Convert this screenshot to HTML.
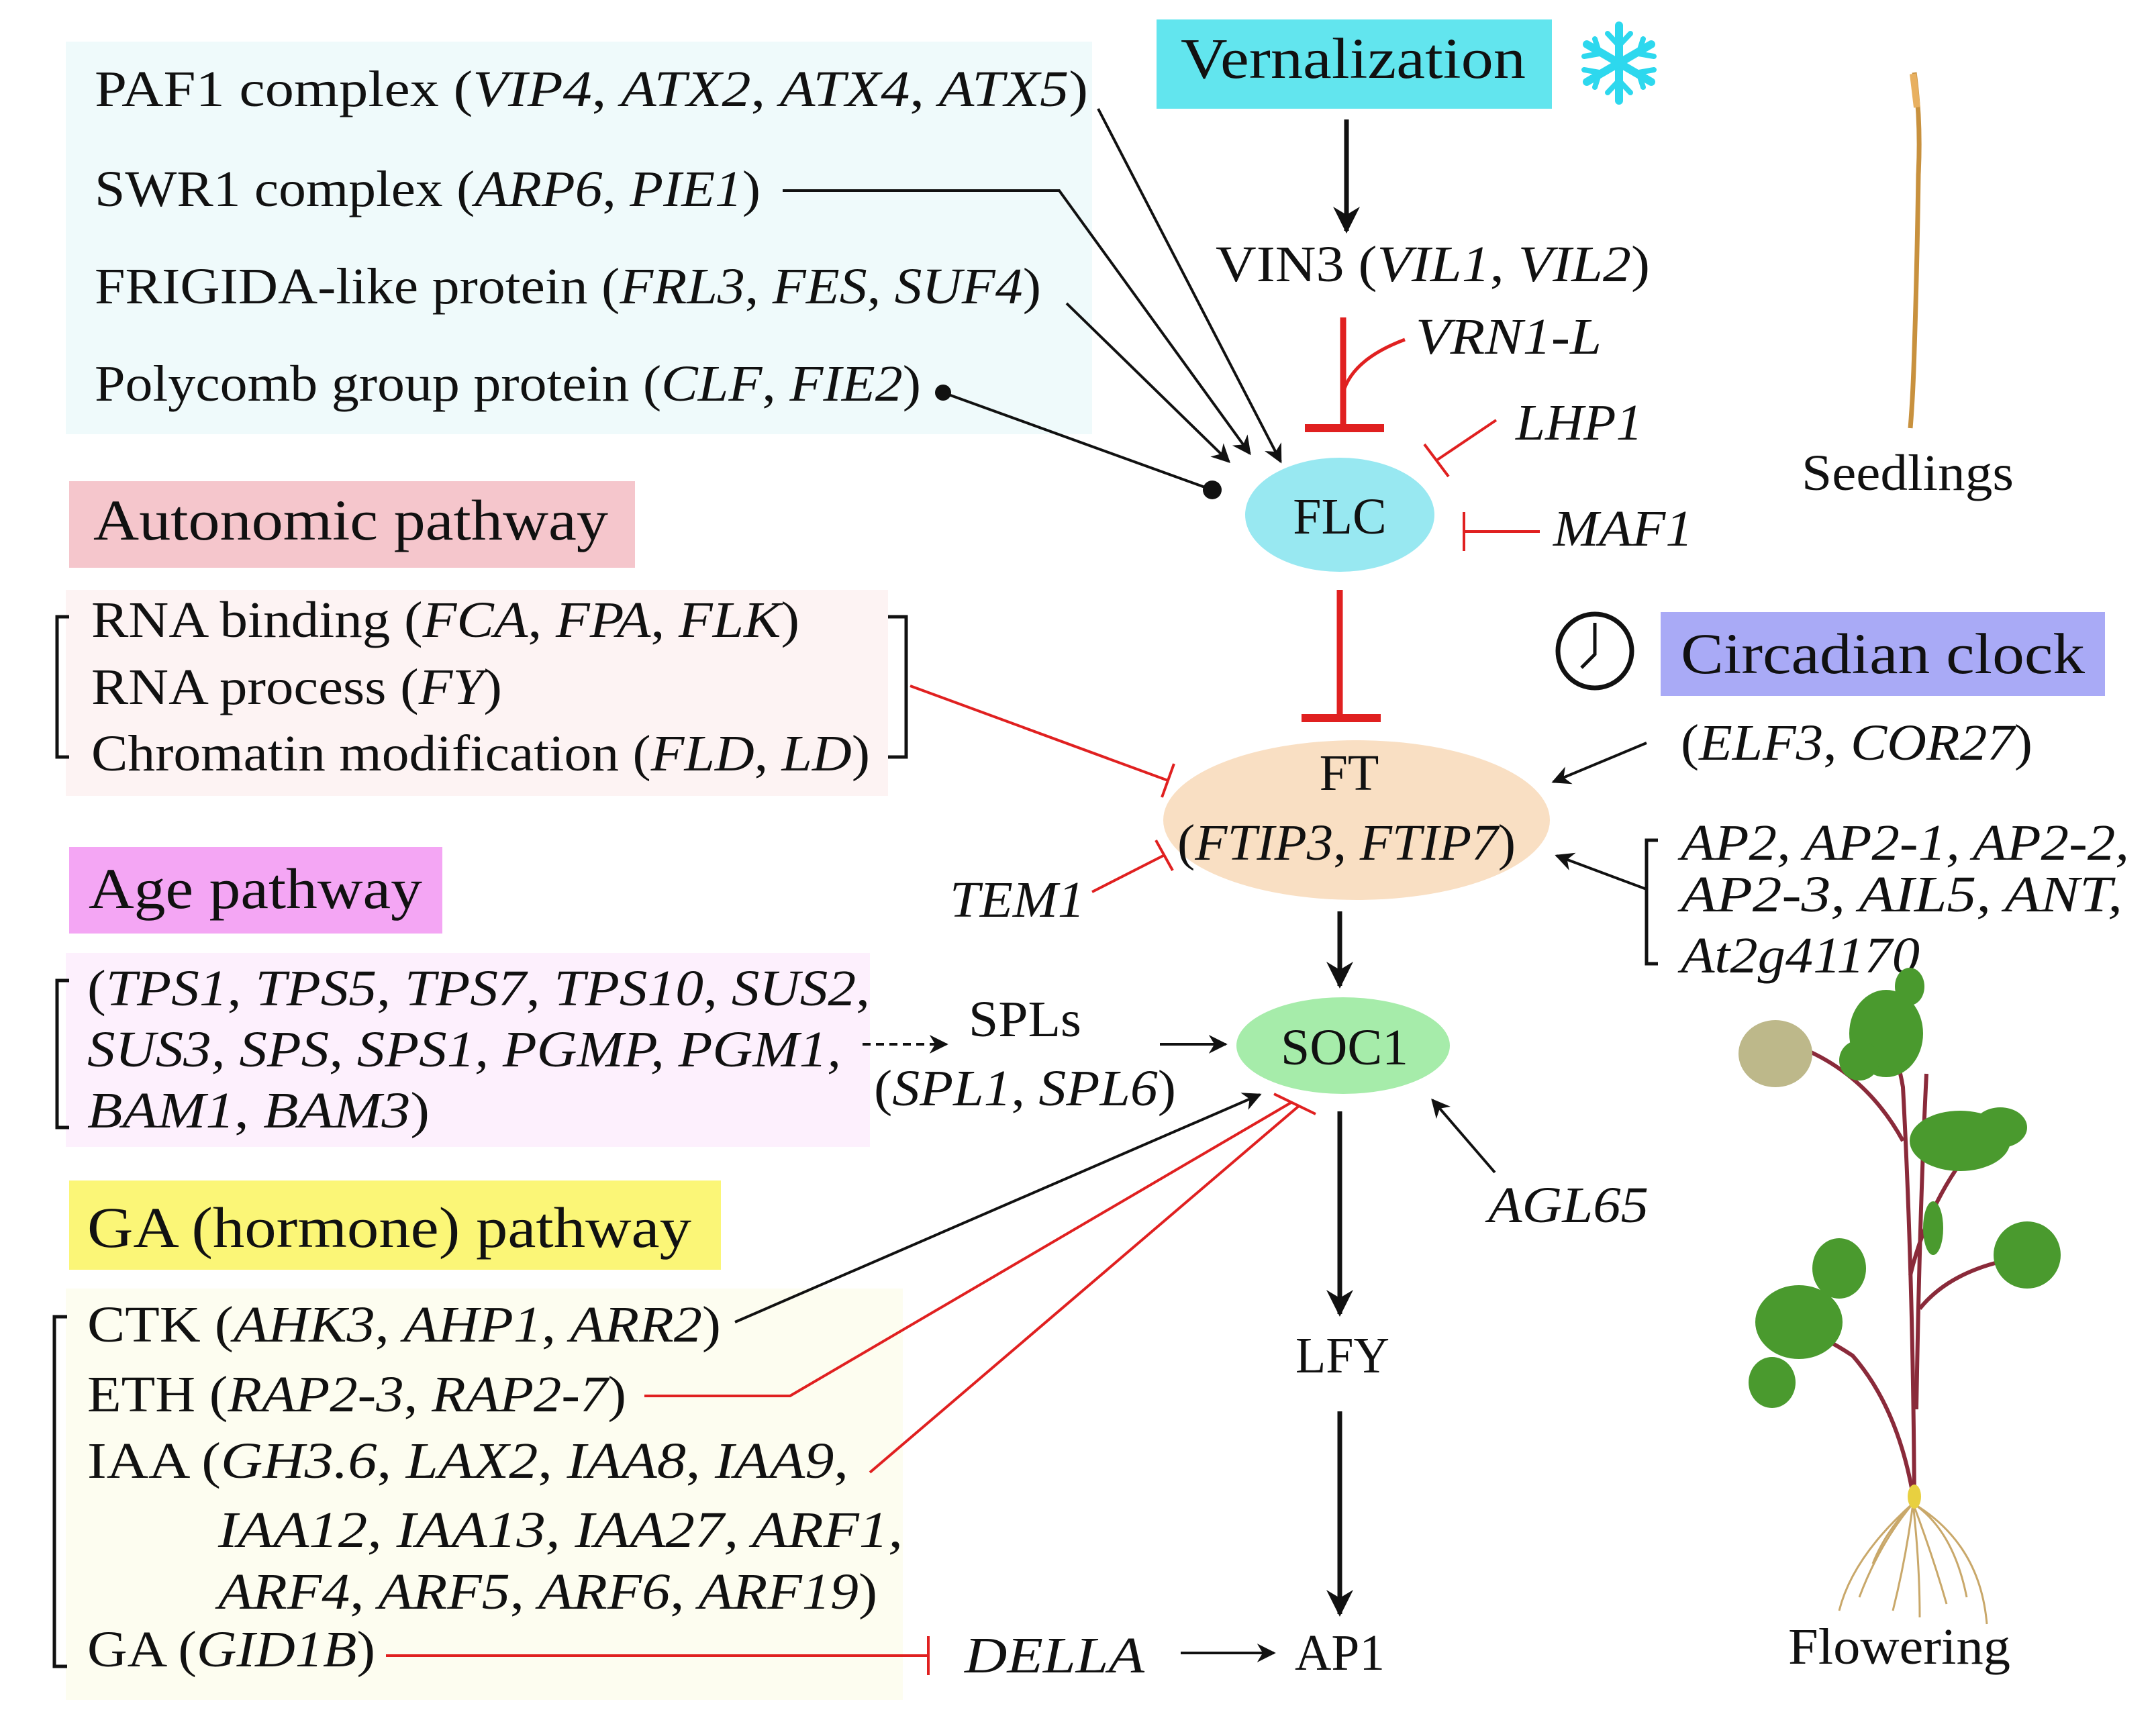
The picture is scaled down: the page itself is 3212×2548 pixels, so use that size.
<!DOCTYPE html>
<html><head><meta charset="utf-8"><style>
html,body{margin:0;padding:0;background:#fff}
svg{display:block}
text{font-family:"Liberation Serif","Times New Roman",Times,serif;font-size:76px;fill:#111}
.h{font-size:86px}
.i{font-style:italic}
</style></head><body>
<svg width="3212" height="2548" viewBox="0 0 3212 2548" xmlns="http://www.w3.org/2000/svg">
<defs>
<marker id="am" viewBox="0 0 10 10" refX="9" refY="5" markerWidth="28" markerHeight="28" markerUnits="userSpaceOnUse" orient="auto"><path d="M0,0 L10,5 L0,10 L3,5z" fill="#111"/></marker>
<marker id="ab" viewBox="0 0 10 10" refX="9" refY="5" markerWidth="40" markerHeight="40" markerUnits="userSpaceOnUse" orient="auto"><path d="M0,0 L10,5 L0,10 L3,5z" fill="#111"/></marker>
</defs>
<rect x="98" y="62" width="1529" height="585" fill="#effafb"/>
<rect x="103" y="717" width="843" height="129" fill="#f5c6cc"/>
<rect x="98" y="879" width="1225" height="307" fill="#fdf3f3"/>
<rect x="103" y="1262" width="556" height="129" fill="#f4a6f4"/>
<rect x="98" y="1420" width="1198" height="289" fill="#fdf0fd"/>
<rect x="103" y="1759" width="971" height="133" fill="#fbf677"/>
<rect x="98" y="1920" width="1247" height="613" fill="#fdfdf0"/>
<rect x="1723" y="29" width="589" height="133" fill="#62e5ee"/>
<rect x="2474" y="912" width="662" height="125" fill="#a9aaf6"/>
<ellipse cx="1996" cy="767" rx="141" ry="85" fill="#98e8f1"/>
<ellipse cx="2021" cy="1222" rx="288" ry="119" fill="#f9dfc3"/>
<ellipse cx="2001" cy="1558" rx="159" ry="72" fill="#a6ecaa"/>

<text x="141" y="158" textLength="1480" lengthAdjust="spacingAndGlyphs">PAF1 complex (<tspan class="i">VIP4</tspan>, <tspan class="i">ATX2</tspan>, <tspan class="i">ATX4</tspan>, <tspan class="i">ATX5</tspan>)</text>
<text x="141" y="307" textLength="992" lengthAdjust="spacingAndGlyphs">SWR1 complex (<tspan class="i">ARP6</tspan>, <tspan class="i">PIE1</tspan>)</text>
<text x="141" y="452" textLength="1410" lengthAdjust="spacingAndGlyphs">FRIGIDA-like protein (<tspan class="i">FRL3</tspan>, <tspan class="i">FES</tspan>, <tspan class="i">SUF4</tspan>)</text>
<text x="141" y="597" textLength="1231" lengthAdjust="spacingAndGlyphs">Polycomb group protein (<tspan class="i">CLF</tspan>, <tspan class="i">FIE2</tspan>)</text>
<text class="h" x="139" y="804" textLength="767" lengthAdjust="spacingAndGlyphs">Autonomic pathway</text>
<text x="136" y="949" textLength="1055" lengthAdjust="spacingAndGlyphs">RNA binding (<tspan class="i">FCA</tspan>, <tspan class="i">FPA</tspan>, <tspan class="i">FLK</tspan>)</text>
<text x="136" y="1049" textLength="612" lengthAdjust="spacingAndGlyphs">RNA process (<tspan class="i">FY</tspan>)</text>
<text x="136" y="1148" textLength="1160" lengthAdjust="spacingAndGlyphs">Chromatin modification (<tspan class="i">FLD</tspan>, <tspan class="i">LD</tspan>)</text>
<text class="h" x="132" y="1353" textLength="497" lengthAdjust="spacingAndGlyphs">Age pathway</text>
<text x="130" y="1498" textLength="1166" lengthAdjust="spacingAndGlyphs">(<tspan class="i">TPS1</tspan>, <tspan class="i">TPS5</tspan>, <tspan class="i">TPS7</tspan>, <tspan class="i">TPS10</tspan>, <tspan class="i">SUS2</tspan>,</text>
<text x="130" y="1589" textLength="1123" lengthAdjust="spacingAndGlyphs" class="i">SUS3, SPS, SPS1, PGMP, PGM1,</text>
<text x="130" y="1680" textLength="510" lengthAdjust="spacingAndGlyphs"><tspan class="i">BAM1</tspan>, <tspan class="i">BAM3</tspan>)</text>
<text class="h" x="130" y="1858" textLength="900" lengthAdjust="spacingAndGlyphs">GA (hormone) pathway</text>
<text x="130" y="1999" textLength="944" lengthAdjust="spacingAndGlyphs">CTK (<tspan class="i">AHK3</tspan>, <tspan class="i">AHP1</tspan>, <tspan class="i">ARR2</tspan>)</text>
<text x="130" y="2103" textLength="803" lengthAdjust="spacingAndGlyphs">ETH (<tspan class="i">RAP2-3</tspan>, <tspan class="i">RAP2-7</tspan>)</text>
<text x="130" y="2202" textLength="1134" lengthAdjust="spacingAndGlyphs">IAA (<tspan class="i">GH3.6</tspan>, <tspan class="i">LAX2</tspan>, <tspan class="i">IAA8</tspan>, <tspan class="i">IAA9</tspan>,</text>
<text x="325" y="2305" textLength="1020" lengthAdjust="spacingAndGlyphs" class="i">IAA12, IAA13, IAA27, ARF1,</text>
<text x="325" y="2397" textLength="982" lengthAdjust="spacingAndGlyphs"><tspan class="i">ARF4</tspan>, <tspan class="i">ARF5</tspan>, <tspan class="i">ARF6</tspan>, <tspan class="i">ARF19</tspan>)</text>
<text x="130" y="2483" textLength="429" lengthAdjust="spacingAndGlyphs">GA (<tspan class="i">GID1B</tspan>)</text>

<g fill="none" stroke="#111" stroke-width="5">
<path d="M103,919 H85 V1128 H103"/>
<path d="M1323,919 H1350 V1128 H1323"/>
<path d="M103,1461 H85 V1680 H103"/>
<path d="M100,1962 H81 V2483 H100"/>
<path d="M2470,1252 H2453 V1436 H2470"/>
</g>

<text class="h" x="1759" y="116" textLength="514" lengthAdjust="spacingAndGlyphs">Vernalization</text>
<text x="1811" y="419" textLength="647" lengthAdjust="spacingAndGlyphs">VIN3 (<tspan class="i">VIL1</tspan>, <tspan class="i">VIL2</tspan>)</text>
<text x="2109" y="527" class="i" textLength="277" lengthAdjust="spacingAndGlyphs">VRN1-L</text>
<text x="2258" y="655" class="i" textLength="189" lengthAdjust="spacingAndGlyphs">LHP1</text>
<text x="2314" y="813" class="i" textLength="208" lengthAdjust="spacingAndGlyphs">MAF1</text>
<text x="1996" y="795" text-anchor="middle">FLC</text>
<text class="h" x="2504" y="1003" textLength="602" lengthAdjust="spacingAndGlyphs">Circadian clock</text>
<text x="2504" y="1132" textLength="524" lengthAdjust="spacingAndGlyphs">(<tspan class="i">ELF3</tspan>, <tspan class="i">COR27</tspan>)</text>
<text x="2010" y="1177" text-anchor="middle">FT</text>
<text x="1754" y="1281" textLength="504" lengthAdjust="spacingAndGlyphs">(<tspan class="i">FTIP3</tspan>, <tspan class="i">FTIP7</tspan>)</text>
<text x="2504" y="1281" class="i" textLength="668" lengthAdjust="spacingAndGlyphs">AP2, AP2-1, AP2-2,</text>
<text x="2504" y="1358" class="i" textLength="658" lengthAdjust="spacingAndGlyphs">AP2-3, AIL5, ANT,</text>
<text x="2504" y="1449" class="i" textLength="356" lengthAdjust="spacingAndGlyphs">At2g41170</text>
<text x="1415" y="1366" class="i" textLength="201" lengthAdjust="spacingAndGlyphs">TEM1</text>
<text x="1443" y="1544" textLength="168" lengthAdjust="spacingAndGlyphs">SPLs</text>
<text x="1302" y="1647" textLength="450" lengthAdjust="spacingAndGlyphs">(<tspan class="i">SPL1</tspan>, <tspan class="i">SPL6</tspan>)</text>
<text x="1908" y="1586" textLength="190" lengthAdjust="spacingAndGlyphs">SOC1</text>
<text x="2217" y="1821" class="i" textLength="239" lengthAdjust="spacingAndGlyphs">AGL65</text>
<text x="1930" y="2045" textLength="140" lengthAdjust="spacingAndGlyphs">LFY</text>
<text x="1929" y="2488" textLength="134" lengthAdjust="spacingAndGlyphs">AP1</text>
<text x="1437" y="2492" class="i" textLength="268" lengthAdjust="spacingAndGlyphs">DELLA</text>
<text x="2684" y="730" textLength="316" lengthAdjust="spacingAndGlyphs">Seedlings</text>
<text x="2664" y="2479" textLength="331" lengthAdjust="spacingAndGlyphs">Flowering</text>

<g fill="none" stroke="#111" stroke-width="4">
<line x1="1636" y1="162" x2="1908" y2="688" marker-end="url(#am)"/>
<path d="M1166,284 H1578 L1862,676" marker-end="url(#am)"/>
<line x1="1589" y1="452" x2="1831" y2="688" marker-end="url(#am)"/>
<line x1="1405" y1="585" x2="1806" y2="730"/>
<line x1="2453" y1="1107" x2="2314" y2="1165" marker-end="url(#am)"/>
<line x1="2453" y1="1325" x2="2319" y2="1275" marker-end="url(#am)"/>
<line x1="1728" y1="1556" x2="1826" y2="1556" marker-end="url(#am)"/>
<line x1="1285" y1="1556" x2="1410" y2="1556" stroke-dasharray="12,8" marker-end="url(#am)"/>
<line x1="1095" y1="1970" x2="1877" y2="1631" marker-end="url(#am)"/>
<line x1="2227" y1="1747" x2="2134" y2="1639" marker-end="url(#am)"/>
<line x1="1759" y1="2463" x2="1898" y2="2463" marker-end="url(#am)"/>
</g>
<circle cx="1405" cy="585" r="12" fill="#111"/>
<circle cx="1806" cy="730" r="14" fill="#111"/>
<g fill="none" stroke="#111" stroke-width="7">
<line x1="2006" y1="178" x2="2006" y2="344" marker-end="url(#ab)"/>
<line x1="1996" y1="1358" x2="1996" y2="1469" marker-end="url(#ab)"/>
<line x1="1996" y1="1656" x2="1996" y2="1958" marker-end="url(#ab)"/>
<line x1="1996" y1="2103" x2="1996" y2="2405" marker-end="url(#ab)"/>
</g>

<g fill="none" stroke="#e02020" stroke-width="9">
<line x1="2001" y1="473" x2="2001" y2="638"/>
<line x1="1944" y1="638" x2="2062" y2="638" stroke-width="12"/>
<path d="M2001,585 Q2015,535 2093,506" stroke-width="5"/>
<line x1="1996" y1="879" x2="1996" y2="1070"/>
<line x1="1939" y1="1070" x2="2057" y2="1070" stroke-width="12"/>
</g>
<g fill="none" stroke="#e02020" stroke-width="4">
<line x1="2229" y1="626" x2="2140" y2="686"/>
<line x1="2122" y1="662" x2="2158" y2="710"/>
<line x1="2294" y1="792" x2="2181" y2="792"/>
<line x1="2181" y1="763" x2="2181" y2="821"/>
<line x1="1356" y1="1022" x2="1740" y2="1163"/>
<line x1="1749" y1="1138" x2="1731" y2="1188"/>
<line x1="1627" y1="1329" x2="1735" y2="1274"/>
<line x1="1722" y1="1252" x2="1747" y2="1297"/>
<path d="M960,2080 H1177 L1925,1642"/>
<line x1="1296" y1="2194" x2="1935" y2="1648"/>
<line x1="1898" y1="1630" x2="1960" y2="1660"/>
<line x1="575" y1="2467" x2="1383" y2="2467"/>
<line x1="1383" y1="2438" x2="1383" y2="2496"/>
</g>

<g stroke="#2dd8ee" stroke-width="12" stroke-linecap="round" fill="none">
<line x1="2412" y1="38" x2="2412" y2="150"/>
<line x1="2364" y1="66" x2="2460" y2="122"/>
<line x1="2364" y1="122" x2="2460" y2="66"/>
<path d="M2395,50 L2412,68 L2429,50 M2395,138 L2412,120 L2429,138 M2360,84 L2383,80 L2376,58 M2464,84 L2441,80 L2448,58 M2360,104 L2383,108 L2376,130 M2464,104 L2441,108 L2448,130" stroke-width="8"/>
</g>
<circle cx="2376" cy="970" r="55" fill="#fff" stroke="#111" stroke-width="7"/>
<path d="M2376,928 V975 L2356,995" stroke="#111" stroke-width="5" fill="none"/>
<path d="M2852,108 Q2862,180 2858,260 Q2856,400 2852,520 Q2850,590 2846,638" stroke="#c8913e" stroke-width="7" fill="none"/>
<path d="M2850,110 L2856,160" stroke="#e8b060" stroke-width="10"/>
<g fill="none" stroke="#8a2a3a" stroke-width="6">
<path d="M2852,2240 Q2850,1900 2835,1620 Q2825,1560 2790,1480"/>
<path d="M2852,2240 Q2830,2100 2760,2020 Q2700,1980 2630,1960"/>
<path d="M2855,2100 Q2860,1800 2870,1600"/>
<path d="M2846,1900 Q2870,1800 2930,1720"/>
<path d="M2860,1950 Q2900,1900 2980,1880"/>
<path d="M2835,1700 Q2780,1600 2680,1560"/>
</g>
<g fill="#4a9a2e">
<ellipse cx="2810" cy="1540" rx="55" ry="65"/>
<ellipse cx="2845" cy="1470" rx="22" ry="28"/>
<ellipse cx="2770" cy="1580" rx="30" ry="30"/>
<ellipse cx="2920" cy="1700" rx="75" ry="45"/>
<ellipse cx="2980" cy="1680" rx="40" ry="30"/>
<ellipse cx="3020" cy="1870" rx="50" ry="50"/>
<ellipse cx="2680" cy="1970" rx="65" ry="55"/>
<ellipse cx="2740" cy="1890" rx="40" ry="45"/>
<ellipse cx="2640" cy="2060" rx="35" ry="38"/>
<ellipse cx="2880" cy="1830" rx="15" ry="40"/>
</g>
<ellipse cx="2645" cy="1570" rx="55" ry="50" fill="#bdb88a"/>
<g stroke="#c9a86a" stroke-width="3" fill="none">
<path d="M2850,2240 Q2800,2300 2770,2380 M2850,2240 Q2840,2320 2820,2400 M2850,2240 Q2880,2320 2900,2390 M2850,2240 Q2910,2280 2930,2380 M2850,2240 Q2860,2330 2860,2410 M2850,2240 Q2810,2280 2790,2330 M2850,2240 Q2760,2320 2740,2400 M2850,2240 Q2950,2300 2960,2420"/>
</g>
<ellipse cx="2852" cy="2230" rx="10" ry="18" fill="#e8d040"/>
</svg>
</body></html>
